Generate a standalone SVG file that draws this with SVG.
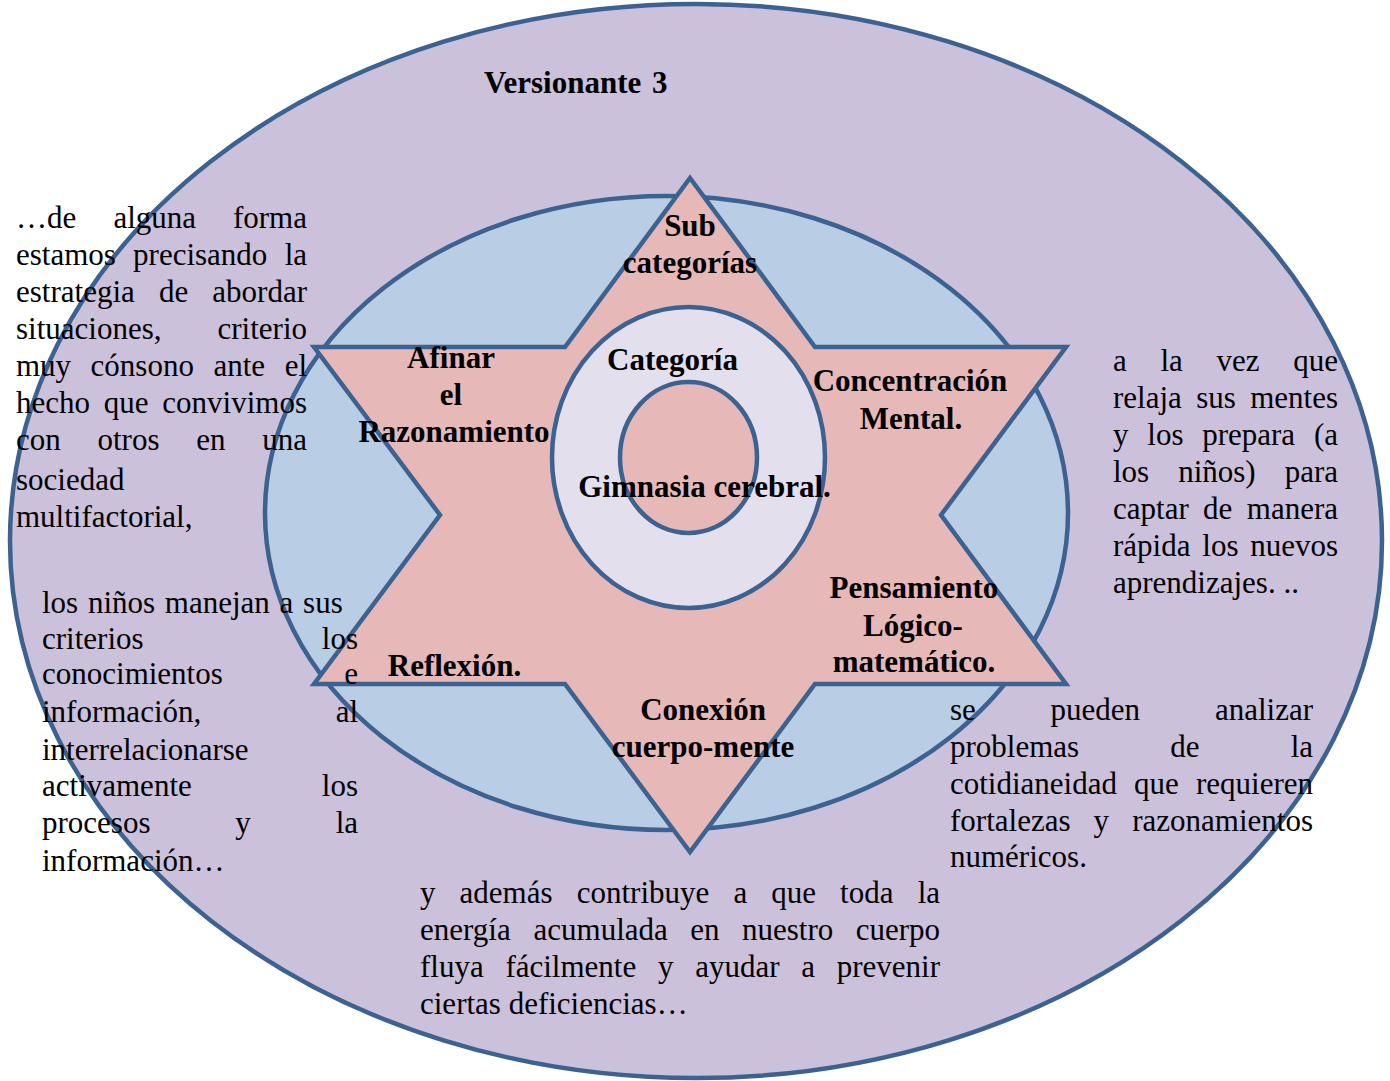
<svg xmlns="http://www.w3.org/2000/svg" width="1390" height="1081" viewBox="0 0 1390 1081">
<style>
.shape{stroke:#3b6290;stroke-width:4.5;stroke-linejoin:miter}
.t{font-family:"Liberation Serif","Times New Roman",serif;font-size:31px;fill:#000}
.b{font-family:"Liberation Serif","Times New Roman",serif;font-size:31px;font-weight:bold;fill:#000;text-anchor:middle}
.e{text-anchor:end}
</style>
<rect width="1390" height="1081" fill="#ffffff"/>
<g id="outer-ellipse"><ellipse class="shape" cx="696" cy="541" rx="686" ry="537" fill="#ccc1da"/></g>
<g id="middle-ellipse"><ellipse class="shape" cx="666.5" cy="513" rx="401.5" ry="317" fill="#b9cde5"/></g>
<g id="star"><polygon class="shape" fill="#e6b9b8" points="690,178 815,347 1066,347 941,515 1066,684 815,684 690,852 565,684 314,684 440,515 314,347 565,347"/></g>
<g id="ring"><ellipse class="shape" cx="688.5" cy="457.5" rx="136.5" ry="150.5" fill="#e4dfec"/></g>
<g id="core"><ellipse class="shape" cx="688.5" cy="457.5" rx="68.5" ry="75.5" fill="#e6b9b8"/></g>

<g id="title"><text class="t" x="484" y="93" font-weight="bold" word-spacing="3">Versionante 3</text></g>

<g id="labels">
<text class="b" x="690" y="236">Sub</text>
<text class="b" x="690" y="273">categorías</text>
<text class="b" x="672.5" y="370">Categoría</text>
<text class="b" x="704.5" y="497">Gimnasia cerebral.</text>
<text class="b" x="451" y="368">Afinar</text>
<text class="b" x="451" y="405">el</text>
<text class="b" x="454" y="442">Razonamiento</text>
<text class="b" x="910" y="391">Concentración</text>
<text class="b" x="911" y="429">Mental.</text>
<text class="b" x="914" y="598">Pensamiento</text>
<text class="b" x="913" y="636">Lógico-</text>
<text class="b" x="914" y="672">matemático.</text>
<text class="b" x="454.5" y="676">Reflexión.</text>
<text class="b" x="703" y="720">Conexión</text>
<text class="b" x="703" y="757">cuerpo-mente</text>
</g>

<g id="text-left-top" class="t">
<text y="228"><tspan x="16">…de</tspan><tspan x="113.4">alguna</tspan><tspan x="307" class="e">forma</tspan></text>
<text y="265"><tspan x="16">estamos</tspan><tspan x="133.1">precisando</tspan><tspan x="307" class="e">la</tspan></text>
<text y="302"><tspan x="16">estrategia</tspan><tspan x="158.9">de</tspan><tspan x="307" class="e">abordar</tspan></text>
<text y="339"><tspan x="16">situaciones,</tspan><tspan x="307" class="e">criterio</tspan></text>
<text y="376"><tspan x="16">muy</tspan><tspan x="90.6">cónsono</tspan><tspan x="213.4">ante</tspan><tspan x="307" class="e">el</tspan></text>
<text y="413"><tspan x="16">hecho</tspan><tspan x="103.8">que</tspan><tspan x="307" class="e">convivimos</tspan></text>
<text y="450"><tspan x="16">con</tspan><tspan x="97.5">otros</tspan><tspan x="196.2">en</tspan><tspan x="307" class="e">una</tspan></text>
<text x="16" y="490">sociedad</text>
<text x="16" y="527">multifactorial,</text>
</g>

<g id="text-left-bottom" class="t">
<text x="42" y="613" word-spacing="2">los niños manejan a sus</text>
<text y="649"><tspan x="42">criterios</tspan><tspan x="358" class="e">los</tspan></text>
<text y="684"><tspan x="42">conocimientos</tspan><tspan x="358" class="e">e</tspan></text>
<text y="722"><tspan x="42">información,</tspan><tspan x="358" class="e">al</tspan></text>
<text x="42" y="760">interrelacionarse</text>
<text y="796"><tspan x="42">activamente</tspan><tspan x="358" class="e">los</tspan></text>
<text y="833"><tspan x="42">procesos</tspan><tspan x="235.3">y</tspan><tspan x="358" class="e">la</tspan></text>
<text x="42" y="871">información…</text>
</g>

<g id="text-right-top" class="t">
<text y="371"><tspan x="1113">a</tspan><tspan x="1160.5">la</tspan><tspan x="1216.6">vez</tspan><tspan x="1338" class="e">que</tspan></text>
<text y="408"><tspan x="1113">relaja</tspan><tspan x="1196.3">sus</tspan><tspan x="1338" class="e">mentes</tspan></text>
<text y="445"><tspan x="1113">y</tspan><tspan x="1147.3">los</tspan><tspan x="1202.2">prepara</tspan><tspan x="1338" class="e">(a</tspan></text>
<text y="482"><tspan x="1113">los</tspan><tspan x="1178.2">niños)</tspan><tspan x="1338" class="e">para</tspan></text>
<text y="519"><tspan x="1113">captar</tspan><tspan x="1203.1">de</tspan><tspan x="1338" class="e">manera</tspan></text>
<text y="556"><tspan x="1113">rápida</tspan><tspan x="1202.3">los</tspan><tspan x="1338" class="e">nuevos</tspan></text>
<text x="1113" y="593">aprendizajes. ..</text>
</g>

<g id="text-right-bottom" class="t">
<text y="720"><tspan x="950">se</tspan><tspan x="1050.6">pueden</tspan><tspan x="1313" class="e">analizar</tspan></text>
<text y="757"><tspan x="950">problemas</tspan><tspan x="1170.2">de</tspan><tspan x="1313" class="e">la</tspan></text>
<text y="794"><tspan x="950">cotidianeidad</tspan><tspan x="1134">que</tspan><tspan x="1313" class="e">requieren</tspan></text>
<text y="831"><tspan x="950">fortalezas</tspan><tspan x="1093.6">y</tspan><tspan x="1313" class="e">razonamientos</tspan></text>
<text x="950" y="867">numéricos.</text>
</g>

<g id="text-bottom" class="t">
<text y="903"><tspan x="420">y</tspan><tspan x="459.6">además</tspan><tspan x="576.7">contribuye</tspan><tspan x="733.4">a</tspan><tspan x="771.3">que</tspan><tspan x="840.1">toda</tspan><tspan x="940" class="e">la</tspan></text>
<text y="940"><tspan x="420">energía</tspan><tspan x="533.6">acumulada</tspan><tspan x="690.3">en</tspan><tspan x="742">nuestro</tspan><tspan x="940" class="e">cuerpo</tspan></text>
<text y="977"><tspan x="420">fluya</tspan><tspan x="505.4">fácilmente</tspan><tspan x="658">y</tspan><tspan x="695.2">ayudar</tspan><tspan x="801.2">a</tspan><tspan x="940" class="e">prevenir</tspan></text>
<text x="420" y="1014">ciertas deficiencias…</text>
</g>
</svg>
